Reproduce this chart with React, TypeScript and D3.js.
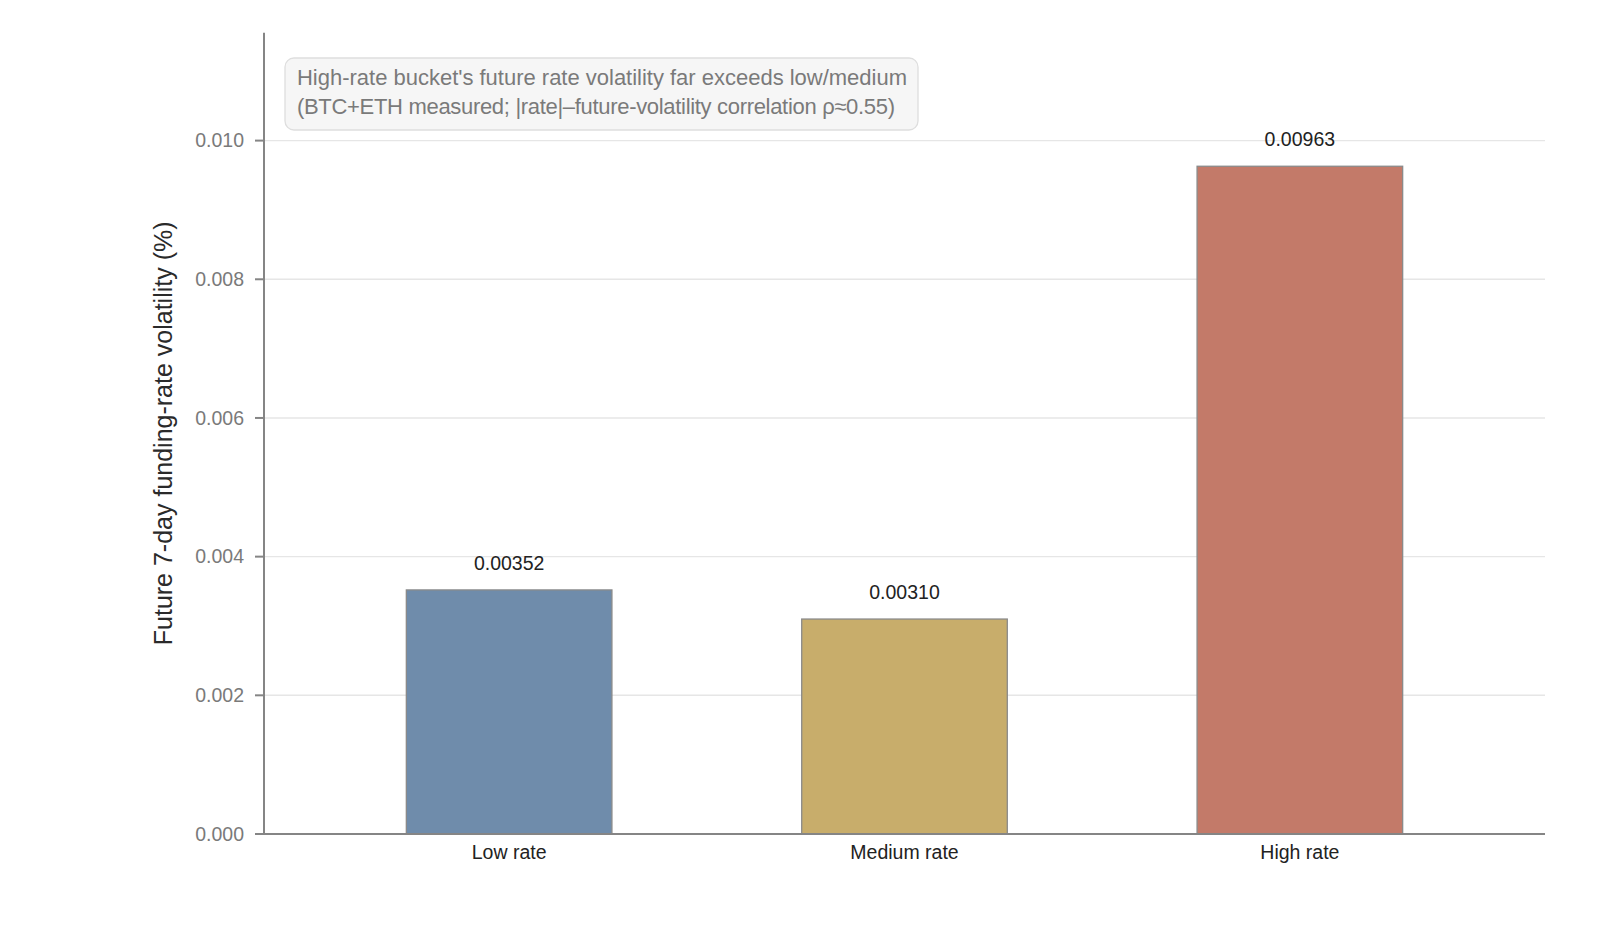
import React, { useEffect, useRef } from 'react';
import * as d3 from 'd3';

const categories = ['Low rate', 'Medium rate', 'High rate'];
const volatility = [0.00352, 0.0031, 0.00963];
const barColors = ['#6f8cab', '#c8ad6b', '#c37a69'];
const yTicks = [0, 0.002, 0.004, 0.006, 0.008, 0.01];
const noteLines = [
    "High-rate bucket's future rate volatility far exceeds low/medium",
    '(BTC+ETH measured; |rate|\u2013future-volatility correlation \u03c1\u22480.55)',
];
const yLabel = 'Future 7-day funding-rate volatility (%)';

const FONT = '"Liberation Sans", Arial, Helvetica, sans-serif';

const App: React.FC = () => {
    const svgRef = useRef<SVGSVGElement>(null);

    useEffect(() => {
        if (!svgRef.current) return;
        const svg = d3.select(svgRef.current);
        svg.selectAll('*').remove();

        const left = 264;
        const right = 1545;
        const top = 32.7;
        const bottom = 834;

        // category index -> x, with matplotlib-like margins
        const x = d3.scaleLinear().domain([-0.62, categories.length - 1 + 0.62]).range([left, right]);
        const y = d3.scaleLinear().domain([0, d3.max(volatility)! * 1.2]).range([bottom, top]);
        const barWidth = 0.52;

        const g = svg.append('g').attr('font-family', FONT);

        // grid
        g.selectAll('line.grid')
            .data(yTicks)
            .join('line')
            .attr('class', 'grid')
            .attr('x1', left)
            .attr('x2', right)
            .attr('y1', (d) => y(d))
            .attr('y2', (d) => y(d))
            .attr('stroke', '#e6e6e6')
            .attr('stroke-width', 1.4);

        // bars
        g.selectAll('rect.bar')
            .data(volatility)
            .join('rect')
            .attr('class', 'bar')
            .attr('x', (_, i) => x(i - barWidth / 2))
            .attr('width', x(barWidth) - x(0))
            .attr('y', (d) => y(d))
            .attr('height', (d) => y(0) - y(d))
            .attr('fill', (_, i) => barColors[i])
            .attr('stroke', '#8a8a8a')
            .attr('stroke-width', 1.3);

        // value labels
        g.selectAll('text.value')
            .data(volatility)
            .join('text')
            .attr('class', 'value')
            .attr('x', (_, i) => x(i))
            .attr('y', (d) => y(d) - 20)
            .attr('text-anchor', 'middle')
            .attr('font-size', '19.5px')
            .attr('fill', '#222')
            .text((d) => d.toFixed(5));

        // y axis
        const yAxis = g.append('g').attr('transform', `translate(${left},0)`);
        yAxis.append('line')
            .attr('x1', 0).attr('x2', 0)
            .attr('y1', top).attr('y2', bottom)
            .attr('stroke', '#858585')
            .attr('stroke-width', 2);
        yTicks.forEach((t) => {
            yAxis.append('line')
                .attr('x1', -9).attr('x2', 0)
                .attr('y1', y(t)).attr('y2', y(t))
                .attr('stroke', '#858585')
                .attr('stroke-width', 2);
            yAxis.append('text')
                .attr('x', -20)
                .attr('y', y(t))
                .attr('dy', '0.35em')
                .attr('text-anchor', 'end')
                .attr('font-size', '19.5px')
                .attr('fill', '#7a7a7a')
                .text(t.toFixed(3));
        });

        // x axis
        g.append('line')
            .attr('x1', left).attr('x2', right)
            .attr('y1', bottom).attr('y2', bottom)
            .attr('stroke', '#858585')
            .attr('stroke-width', 2);
        g.selectAll('text.xlab')
            .data(categories)
            .join('text')
            .attr('class', 'xlab')
            .attr('x', (_, i) => x(i))
            .attr('y', bottom + 25)
            .attr('text-anchor', 'middle')
            .attr('font-size', '19.5px')
            .attr('fill', '#222')
            .text((d) => d);

        // y label
        g.append('text')
            .attr('transform', `translate(172, ${(top + bottom) / 2}) rotate(-90)`)
            .attr('text-anchor', 'middle')
            .attr('font-size', '25px')
            .attr('fill', '#2a2a2a')
            .text(yLabel);

        // note box
        g.append('rect')
            .attr('x', 285)
            .attr('y', 58)
            .attr('width', 633)
            .attr('height', 72)
            .attr('rx', 9)
            .attr('fill', '#f6f6f6')
            .attr('stroke', '#dedede')
            .attr('stroke-width', 1.3);
        const noteWidths = [610, 598];
        noteLines.forEach((line, i) => {
            g.append('text')
                .attr('x', 297)
                .attr('y', 85 + i * 29)
                .attr('font-size', '22px')
                .attr('fill', '#7a7a7a')
                .attr('textLength', noteWidths[i])
                .attr('lengthAdjust', 'spacing')
                .text(line);
        });
    }, []);

    return (
        <svg
            ref={svgRef}
            width={1600}
            height={942}
            style={{ position: 'absolute', left: 0, top: 0, background: '#fff' }}
        ></svg>
    );
};

export default App;
